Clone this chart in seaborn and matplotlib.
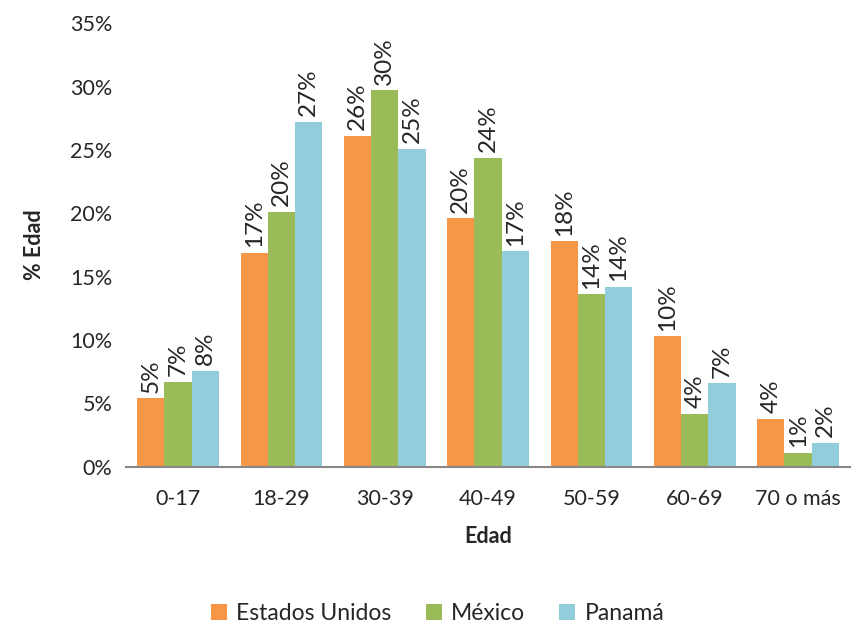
import pandas as pd
import seaborn as sns
import matplotlib.pyplot as plt
from matplotlib.ticker import PercentFormatter

edades = ["0-17", "18-29", "30-39", "40-49", "50-59", "60-69", "70 o más"]
paises = ["Estados Unidos", "México", "Panamá"]
estados_unidos = [5.4, 16.9, 26.1, 19.6, 17.8, 10.3, 3.8]
mexico = [6.7, 20.1, 29.7, 24.4, 13.6, 4.2, 1.1]
panama = [7.6, 27.2, 25.1, 17.0, 14.2, 6.6, 1.9]
colores = ["#F79646", "#9BBB59", "#92CDDC"]

df = pd.DataFrame({"Edad": edades * 3,
                   "Pais": sum([[p] * len(edades) for p in paises], []),
                   "Valor": estados_unidos + mexico + panama})

sns.set_style("white")
plt.rcParams['font.family'] = ['Lato', 'DejaVu Sans']

fig = plt.figure(figsize=(8.54, 6.25), dpi=100)
ax = fig.add_axes([0.148, 0.253, 0.847, 0.71])
sns.barplot(data=df, x="Edad", y="Valor", hue="Pais", palette=colores,
            width=0.79, saturation=1, ax=ax, edgecolor="none")

for cont in ax.containers:
    labels = [f"{v:.0f}%" for v in cont.datavalues]
    ax.bar_label(cont, labels=labels, rotation=90, padding=4, fontsize=17.5)

ax.set_ylim(0, 35)
ax.set_yticks(range(0, 36, 5))
ax.yaxis.set_major_formatter(PercentFormatter(decimals=0))
ax.tick_params(axis="both", labelsize=15.5, length=0)
ax.tick_params(axis="x", pad=16)
ax.tick_params(axis="y", pad=10)
ax.set_xlabel("Edad", fontsize=15.5, fontweight="bold", labelpad=12)
ax.set_ylabel("% Edad", fontsize=15.5, fontweight="bold", labelpad=18)
for s in ["top", "right", "left"]:
    ax.spines[s].set_visible(False)
ax.spines["bottom"].set_color("#888888")
ax.spines["bottom"].set_linewidth(1.5)

ax.legend(loc="lower center", bbox_to_anchor=(0.43, -0.40), ncol=3,
          frameon=False, fontsize=16.5, handlelength=0.7, handleheight=0.7,
          columnspacing=1.5, handletextpad=0.4)

plt.savefig("out.png", dpi=100)
plt.close()
